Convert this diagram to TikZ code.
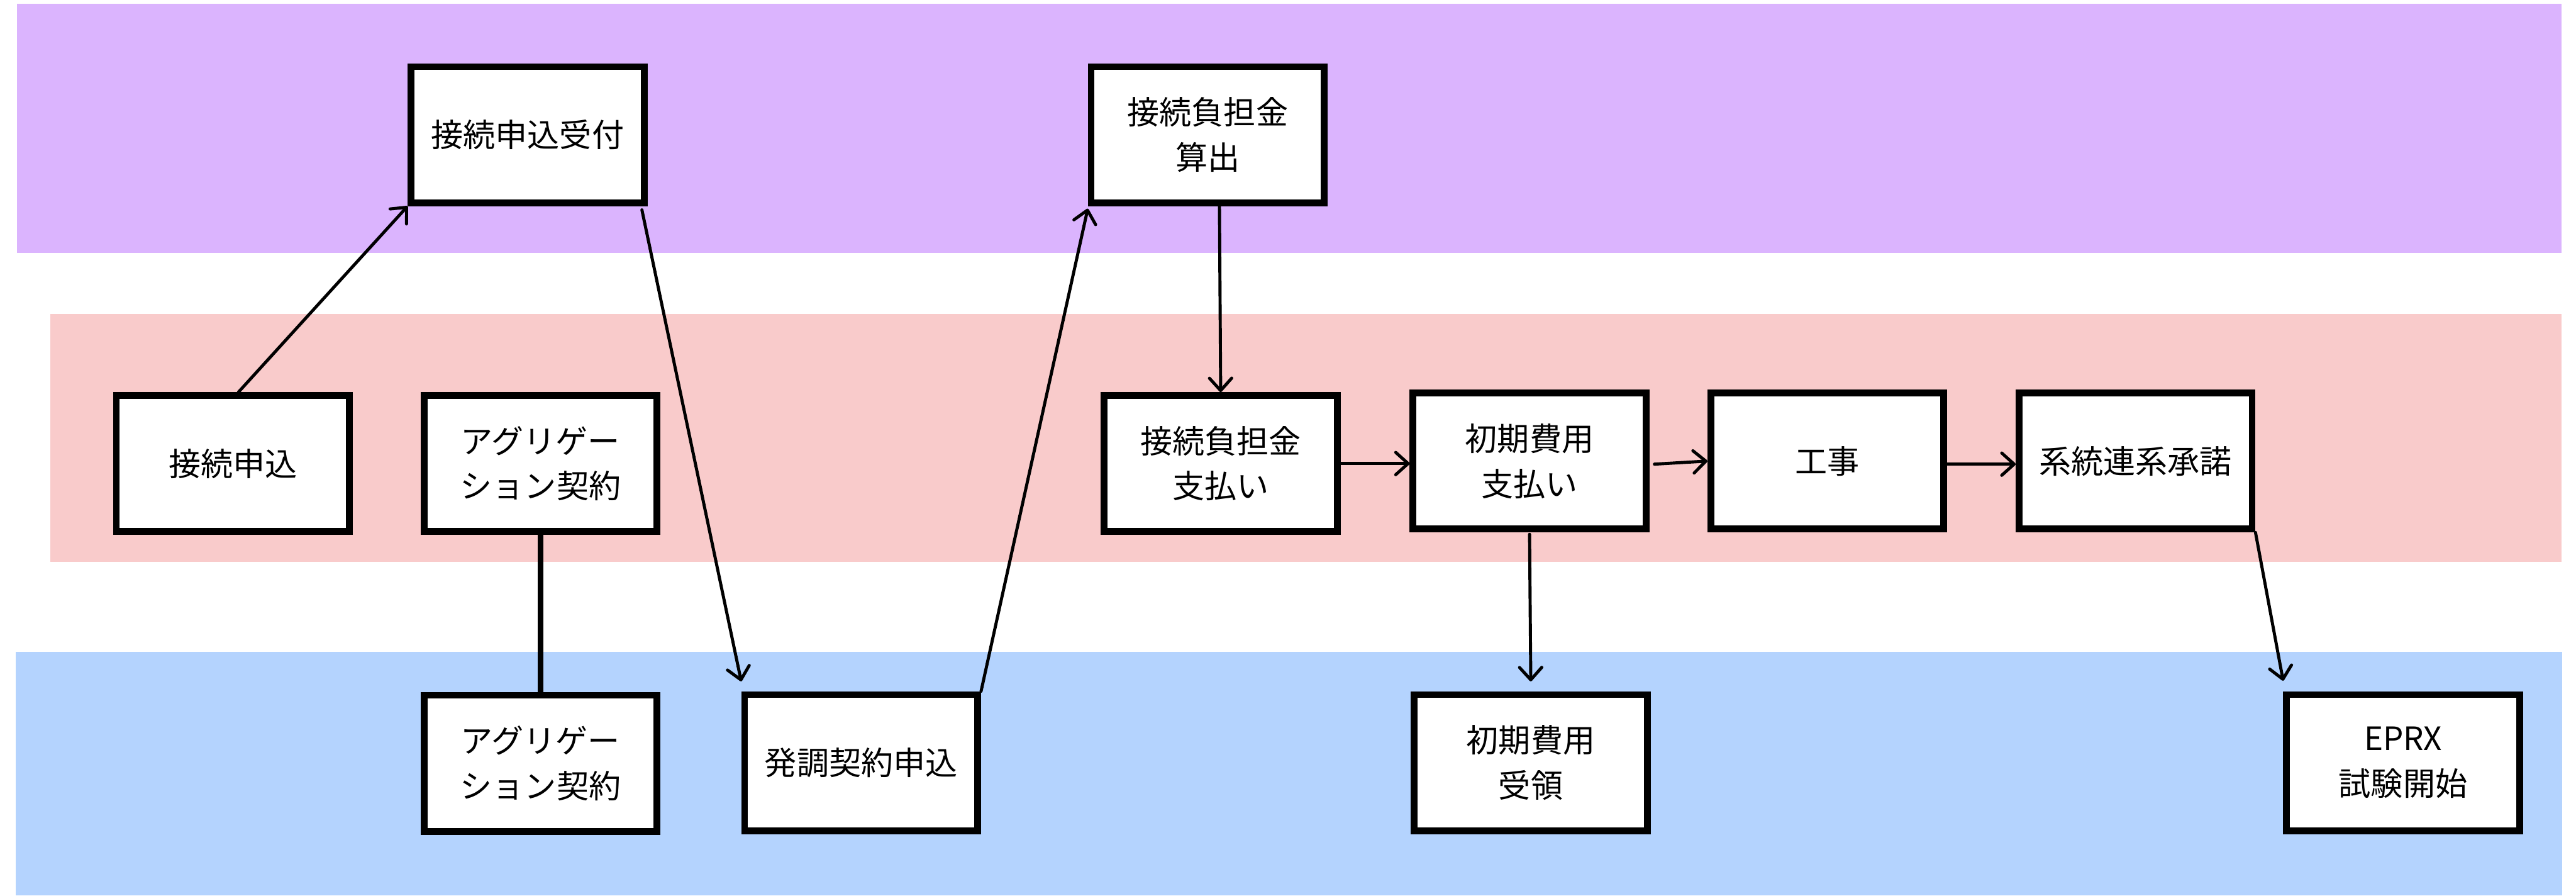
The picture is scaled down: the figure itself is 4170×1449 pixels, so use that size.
\documentclass[tikz,border=0pt]{standalone}
\usepackage{fontspec}
\setmainfont{Noto Sans CJK JP}
\usetikzlibrary{arrows.meta}
\definecolor{bandpurple}{RGB}{219,180,254}
\definecolor{bandpink}{RGB}{249,203,203}
\definecolor{bandblue}{RGB}{180,211,254}
\tikzset{
  box/.style={draw=black, fill=white, line width=0.11cm, minimum width=3.77cm,
    minimum height=2.20cm, inner sep=0pt, align=center,
    font=\fontsize{14.8pt}{20.8pt}\selectfont},
  flow/.style={line width=0.05cm, line cap=round,
    -{Straight Barb[length=2mm,width=3.6mm,round]}},
  link/.style={line width=0.10cm}
}
\begin{document}
\begin{tikzpicture}[x=0.01cm,y=-0.01cm]
\useasboundingbox (0,0) rectangle (4170,1449);
\fill[bandpurple] (27,6) rectangle (4147,409);
\fill[bandpink] (81,508) rectangle (4147,909);
\fill[bandblue] (25,1055) rectangle (4148,1449);

\node[box] (A) at (377,750) {接続申込};
\node[box] (B) at (875,750) {アグリゲー\\ション契約};
\node[box] (C) at (875,1235) {アグリゲー\\ション契約};
\node[box] (D) at (854,218) {接続申込受付};
\node[box] (E) at (1394,1234) {発調契約申込};
\node[box] (F) at (1955,218) {接続負担金\\算出};
\node[box] (G) at (1976,750) {接続負担金\\支払い};
\node[box] (H) at (2476,746) {初期費用\\支払い};
\node[box] (I) at (2958,746) {工事};
\node[box] (J) at (3457,746) {系統連系承諾};
\node[box] (K) at (2478,1234) {初期費用\\受領};
\node[box] (L) at (3890,1234) {EPRX\\試験開始};

\draw[link] (B.south) -- (C.north);
\draw[flow] ([xshift=0.09cm]A.north) -- (D.south west);
\draw[flow] ([xshift=-0.09cm,yshift=-0.06cm]D.south east) -- ([yshift=0.16cm]E.north west);
\draw[flow] (E.north east) -- ([yshift=-0.04cm]F.south west);
\draw[flow] ([xshift=0.19cm]F.south) -- (G.north);
\draw[flow] (G.east) -- (G.east -| H.west);
\draw[flow] ([xshift=0.08cm,yshift=-0.05cm]H.east) -- (I.west);
\draw[flow] ([yshift=-0.05cm]I.east) -- ([yshift=-0.05cm]J.west);
\draw[flow] ([yshift=-0.03cm]H.south) -- ([yshift=0.16cm]K.north);
\draw[flow] (J.south east) -- ([yshift=0.17cm]L.north west);
\end{tikzpicture}
\end{document}
